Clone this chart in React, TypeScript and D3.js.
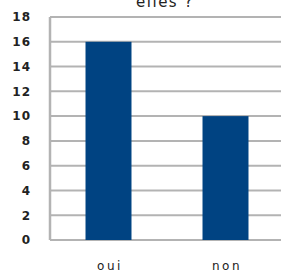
import React from "react";
import * as d3 from "d3";

const categories = ["oui", "non"];
const values = [16, 10];
const yTicks = [0, 2, 4, 6, 8, 10, 12, 14, 16, 18];
const titleText = "elles ?";

export default function App() {
  const W = 281, H = 272;
  const left = 50, right = 284, top = 17, bottom = 240;
  const x = d3.scaleBand<string>().domain(categories).range([left, right]).paddingInner(0.607).paddingOuter(0.3035);
  const y = d3.scaleLinear().domain([0, 18]).range([bottom, top]);
  const font = "'DejaVu Sans', sans-serif";
  return (
    <svg width={W} height={H} style={{ position: "fixed", left: 0, top: 0, background: "#fff" }}>
      <text x={165} y={7} textAnchor="middle" fontFamily={font} fontSize={15} letterSpacing={1.5} fill="#222">{titleText}</text>
      {yTicks.map((t) => (
        <g key={t}>
          <line x1={left} x2={W} y1={y(t)} y2={y(t)} stroke="#b3b3b3" strokeWidth={2} />
          <text x={31} y={y(t)} dy="0.36em" textAnchor="end" fontFamily={font} fontSize={12} fontWeight="bold" letterSpacing={1} fill="#222">{t}</text>
        </g>
      ))}
      <line x1={left} x2={left} y1={top} y2={bottom} stroke="#b3b3b3" strokeWidth={2.5} />
      {categories.map((c, i) => (
        <g key={c}>
          <rect x={x(c)} y={y(values[i])} width={x.bandwidth()} height={bottom - y(values[i])} fill="#004382" />
          <text x={(x(c) ?? 0) + x.bandwidth() / 2 + 1.5} y={270} textAnchor="middle" fontFamily={font} fontSize={12} letterSpacing={2.5} fill="#222">{c}</text>
        </g>
      ))}
    </svg>
  );
}
